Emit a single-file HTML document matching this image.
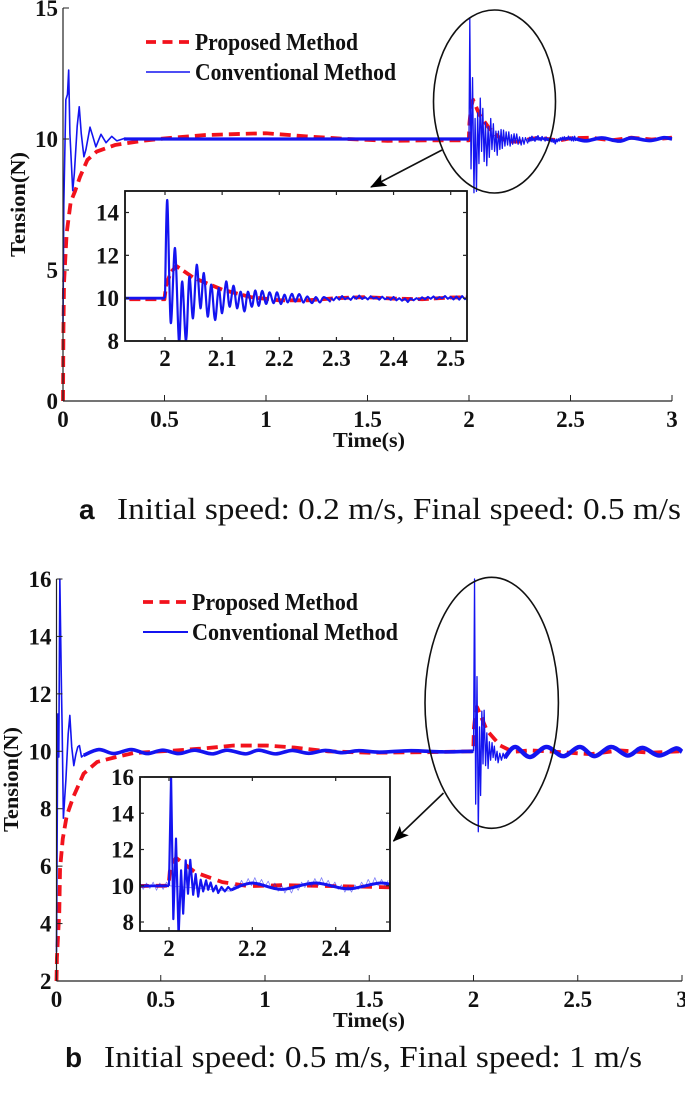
<!DOCTYPE html>
<html lang="en">
<head>
<meta charset="utf-8">
<title>Tension response comparison</title>
<style>
html,body{margin:0;padding:0;background:#fff;}
svg{display:block;}
text{font-family:"Liberation Serif",serif;fill:#111;}
.tick{font-weight:bold;font-size:23px;}
.title{font-weight:bold;font-size:21.5px;}
.legend{font-weight:bold;font-size:24px;}
.caption{font-size:31px;}
.tag{font-family:"Liberation Sans",sans-serif;font-weight:bold;font-size:28px;}
</style>
</head>
<body>
<svg id="figure" xmlns="http://www.w3.org/2000/svg" width="685" height="1105" viewBox="0 0 685 1105">
  <defs>
    <clipPath id="clip-inset-a"><rect x="125" y="191" width="342" height="150"/></clipPath>
    <clipPath id="clip-inset-b"><rect x="140" y="777" width="250" height="154"/></clipPath>
    <marker id="arrow-head" viewBox="0 0 16 13" refX="15" refY="6.5" markerWidth="16" markerHeight="13" markerUnits="userSpaceOnUse" orient="auto">
      <path d="M0 0 L16 6.5 L0 13 L3.5 6.5 Z" fill="#000"/>
    </marker>
  </defs>
  <g id="panel-a"></g>
  <g id="panel-b"></g>

  <g>
    <line x1="146" y1="42" x2="190" y2="42" stroke="#f2121c" stroke-width="3.8" stroke-dasharray="10 6.5"/>
    <text class="legend" x="195" y="50" textLength="163" lengthAdjust="spacingAndGlyphs">Proposed Method</text>
    <line x1="146" y1="72" x2="190" y2="72" stroke="#1414f0" stroke-width="1.6"/>
    <text class="legend" x="195" y="80" textLength="201" lengthAdjust="spacingAndGlyphs">Conventional Method</text>
  </g>
  <g>
    <line x1="143" y1="602" x2="188" y2="602" stroke="#f2121c" stroke-width="3.8" stroke-dasharray="10 6.5"/>
    <text class="legend" x="192" y="610" textLength="166" lengthAdjust="spacingAndGlyphs">Proposed Method</text>
    <line x1="143" y1="632" x2="188" y2="632" stroke="#1414f0" stroke-width="2"/>
    <text class="legend" x="192" y="640" textLength="206" lengthAdjust="spacingAndGlyphs">Conventional Method</text>
  </g>

  <text class="title" transform="translate(25 257) rotate(-90)" textLength="105" lengthAdjust="spacingAndGlyphs">Tension(N)</text>
  <text class="title" x="369" y="447" text-anchor="middle" textLength="72" lengthAdjust="spacingAndGlyphs">Time(s)</text>
  <text class="title" transform="translate(18 832) rotate(-90)" textLength="105" lengthAdjust="spacingAndGlyphs">Tension(N)</text>
  <text class="title" x="369" y="1027" text-anchor="middle" textLength="72" lengthAdjust="spacingAndGlyphs">Time(s)</text>

  <text class="tag" x="79" y="519">a</text>
  <text class="caption" x="117" y="519" textLength="564" lengthAdjust="spacingAndGlyphs">Initial speed: 0.2 m/s, Final speed: 0.5 m/s</text>
  <text class="tag" x="65" y="1067">b</text>
  <text class="caption" x="104" y="1067" textLength="538" lengthAdjust="spacingAndGlyphs">Initial speed: 0.5 m/s, Final speed: 1 m/s</text>

  <g id="callouts">
    <ellipse cx="494.5" cy="101.5" rx="61" ry="91.5" fill="none" stroke="#111" stroke-width="1.6"/>
    <line x1="442" y1="150" x2="371" y2="187" stroke="#111" stroke-width="1.6" marker-end="url(#arrow-head)"/>
    <ellipse cx="491.7" cy="702.8" rx="66.7" ry="125.5" fill="none" stroke="#111" stroke-width="1.6"/>
    <line x1="443.5" y1="793" x2="393.5" y2="841" stroke="#111" stroke-width="1.6" marker-end="url(#arrow-head)"/>
  </g>
</svg>

<script>
/* ---------- Panel a: ticks ---------- */
const aXTicks = [0, 0.5, 1, 1.5, 2, 2.5, 3];
const aXLabels = ["0", "0.5", "1", "1.5", "2", "2.5", "3"];
const aYTicks = [0, 5, 10, 15];
const aYLabels = ["0", "5", "10", "15"];
const aInsetXTicks = [2, 2.1, 2.2, 2.3, 2.4, 2.5];
const aInsetXLabels = ["2", "2.1", "2.2", "2.3", "2.4", "2.5"];
const aInsetYTicks = [8, 10, 12, 14];
const aInsetYLabels = ["8", "10", "12", "14"];

/* ---------- Panel a: proposed method ---------- */
const aPropT = [0, 0.002, 0.005, 0.018, 0.038, 0.059, 0.084, 0.12, 0.166, 0.256, 0.39, 0.51, 0.7, 0.9, 1.0, 1.2, 1.4, 1.6, 1.8, 1.999, 2.002, 2.01, 2.02, 2.05, 2.1, 2.15, 2.2, 2.25, 2.3, 2.35, 2.4, 2.45, 2.5, 2.6, 2.7, 2.8, 2.9, 3.0];
const aPropV = [0, 2.6, 4.5, 6.4, 7.6, 8.0, 8.56, 9.2, 9.52, 9.77, 9.93, 10.03, 10.15, 10.2, 10.22, 10.1, 10.0, 9.93, 9.95, 9.95, 10.6, 11.2, 11.5, 10.95, 10.4, 10.05, 9.9, 9.9, 10.0, 10.05, 9.98, 9.95, 10.03, 10.05, 9.95, 10.05, 9.98, 10.05];

/* ---------- Panel a: conventional method ---------- */
const aStartT = [0, 0.004, 0.014, 0.018, 0.022, 0.028, 0.034, 0.048, 0.056, 0.07, 0.08, 0.09, 0.103, 0.113, 0.133, 0.145, 0.162, 0.187, 0.212, 0.24, 0.265, 0.305, 0.34];
const aStartV = [3, 7.5, 11.5, 11.6, 11.7, 12.63, 10.2, 8.03, 8.7, 10.5, 11.23, 10.2, 9.32, 9.6, 10.45, 10.15, 9.7, 10.18, 9.86, 10.1, 9.93, 10.03, 10.0];
const aFlatT = [0.3, 0.7, 1.2, 1.6, 1.93, 2.0];
const aFlatV = [10.0, 10.0, 10.0, 10.0, 10.0, 10.0];
const aJumpT = [2.0, 2.004, 2.01, 2.0175, 2.0245, 2.03, 2.0368, 2.0426, 2.049, 2.0555, 2.062, 2.068, 2.0747, 2.081, 2.0876, 2.094, 2.1, 2.107, 2.113, 2.12, 2.126, 2.1325, 2.139, 2.145, 2.152, 2.158, 2.164, 2.17, 2.177, 2.183, 2.19, 2.196, 2.2026, 2.209, 2.215, 2.222, 2.228, 2.235, 2.242, 2.249, 2.257, 2.264, 2.271, 2.278, 2.29];
const aJumpV = [10.0, 14.58, 8.86, 12.34, 7.95, 10.78, 8.0, 11.0, 9.06, 11.56, 9.53, 11.17, 9.14, 10.63, 8.98, 10.47, 9.3, 10.78, 9.6, 10.58, 9.53, 10.3, 9.38, 10.3, 9.6, 10.36, 9.64, 10.34, 9.73, 10.27, 9.77, 10.27, 9.73, 10.16, 9.8, 10.2, 9.84, 10.19, 9.8, 10.08, 9.77, 10.05, 9.8, 10.05, 9.83];
const aTailT = [2.29, 2.295, 2.3, 2.305, 2.31, 2.315, 2.32, 2.325, 2.33, 2.335, 2.34, 2.345, 2.35, 2.355, 2.36, 2.365, 2.37, 2.375, 2.38, 2.385, 2.39, 2.395, 2.4, 2.405, 2.41, 2.415, 2.42, 2.425, 2.43, 2.435, 2.44, 2.445, 2.45, 2.455, 2.46, 2.465, 2.47, 2.475, 2.48, 2.485, 2.49, 2.495, 2.5, 2.505, 2.51, 2.515, 2.52, 2.525, 2.53];
const aTailV = [10.02, 9.9, 10.06, 9.93, 10.1, 9.95, 10.03, 9.92, 10.08, 9.97, 10.12, 9.96, 10.05, 9.94, 10.09, 9.98, 10.04, 9.93, 10.07, 9.95, 10.02, 9.92, 10.06, 9.9, 10.0, 9.88, 9.98, 9.82, 9.99, 9.9, 10.0, 9.93, 10.04, 9.95, 10.06, 9.97, 10.08, 9.96, 10.05, 9.99, 10.1, 9.97, 10.06, 9.94, 10.08, 9.93, 10.1, 9.95, 10.05];
const aWaveT = [2.53, 2.58, 2.654, 2.74, 2.8, 2.89, 2.96, 3.0];
const aWaveV = [10.0, 9.93, 10.04, 9.92, 10.04, 9.94, 10.05, 10.0];

/* ---------- Panel b: ticks ---------- */
const bXTicks = [0, 0.5, 1, 1.5, 2, 2.5, 3];
const bXLabels = ["0", "0.5", "1", "1.5", "2", "2.5", "3"];
const bYTicks = [2, 4, 6, 8, 10, 12, 14, 16];
const bYLabels = ["2", "4", "6", "8", "10", "12", "14", "16"];
const bInsetXTicks = [2, 2.2, 2.4];
const bInsetXLabels = ["2", "2.2", "2.4"];
const bInsetYTicks = [8, 10, 12, 14, 16];
const bInsetYLabels = ["8", "10", "12", "14", "16"];

/* ---------- Panel b: proposed method ---------- */
const bPropT = [0, 0.002, 0.0134, 0.017, 0.03, 0.049, 0.08, 0.13, 0.195, 0.275, 0.37, 0.53, 0.69, 0.85, 1.01, 1.14, 1.3, 1.5, 1.8, 1.999, 2.002, 2.008, 2.017, 2.064, 2.128, 2.19, 2.27, 2.4, 2.56, 2.7, 2.85, 3.0];
const bPropV = [2, 2.8, 4.4, 5.9, 6.95, 7.75, 8.4, 9.22, 9.63, 9.78, 9.94, 10.01, 10.09, 10.2, 10.2, 10.13, 10.0, 9.95, 9.97, 10.0, 10.8, 11.2, 11.54, 10.73, 10.2, 9.98, 10.03, 9.98, 9.9, 10.03, 9.95, 10.0];

/* ---------- Panel b: conventional method ---------- */
const bStartT = [0, 0.0064, 0.011, 0.016, 0.024, 0.027, 0.033, 0.045, 0.056, 0.064, 0.073, 0.083, 0.093, 0.102, 0.11, 0.12, 0.13];
const bStartV = [3, 11.3, 9.8, 16.0, 12.06, 10.85, 7.67, 9.0, 10.6, 11.25, 10.15, 9.5, 9.9, 10.15, 10.2, 9.8, 9.86];
const bFlatT = [0.13, 0.203, 0.275, 0.358, 0.434, 0.51, 0.586, 0.663, 0.746, 0.818, 0.906, 0.97, 1.05, 1.13, 1.21, 1.29, 1.37, 1.45, 1.55, 1.7, 1.85, 2.0];
const bFlatV = [9.86, 10.06, 9.92, 10.06, 9.92, 10.04, 9.92, 10.04, 9.91, 10.04, 9.91, 10.04, 9.91, 10.03, 9.93, 10.03, 9.95, 10.02, 9.97, 10.02, 9.98, 10.0];
const bJumpT = [2.0, 2.005, 2.0104, 2.0168, 2.023, 2.029, 2.034, 2.04, 2.0456, 2.051, 2.058, 2.064, 2.07, 2.076, 2.082, 2.089, 2.094, 2.1, 2.106, 2.113, 2.118, 2.126, 2.134, 2.142, 2.15];
const bJumpV = [10.0, 16.0, 8.16, 12.6, 7.2, 10.85, 8.46, 11.4, 9.56, 11.43, 9.5, 10.64, 9.4, 10.33, 9.69, 10.3, 9.78, 10.18, 9.69, 10.0, 9.6, 9.93, 9.69, 9.93, 9.74];
const bWaveT = [2.15, 2.2, 2.27, 2.35, 2.43, 2.51, 2.58, 2.66, 2.74, 2.81, 2.89, 2.97, 3.0];
const bWaveV = [9.78, 10.15, 9.8, 10.15, 9.83, 10.15, 9.83, 10.15, 9.85, 10.12, 9.85, 10.1, 9.98];
const bNoiseT = [1.93, 1.938, 1.946, 1.954, 1.962, 1.97, 1.978, 1.986, 1.994, 2.0, 2.15, 2.158, 2.166, 2.174, 2.182, 2.19, 2.198, 2.206, 2.214, 2.222, 2.23, 2.238, 2.246, 2.254, 2.262, 2.27, 2.278, 2.286, 2.294, 2.302, 2.31, 2.318, 2.326, 2.334, 2.342, 2.35, 2.358, 2.366, 2.374, 2.382, 2.39, 2.398, 2.406, 2.414, 2.422, 2.43, 2.438, 2.446, 2.454, 2.462, 2.47, 2.478, 2.486, 2.494, 2.502, 2.51, 2.518, 2.526];
const bNoiseV = [10.2, 9.8, 10.15, 9.85, 10.2, 9.75, 10.15, 9.8, 10.2, 10.0, 9.7, 10.05, 9.85, 10.3, 9.95, 10.4, 10.0, 10.45, 10.0, 10.35, 9.95, 10.25, 9.85, 10.15, 9.7, 10.05, 9.6, 9.95, 9.6, 10.05, 9.75, 10.2, 9.9, 10.3, 9.95, 10.4, 10.0, 10.45, 10.0, 10.3, 9.9, 10.2, 9.8, 10.05, 9.65, 10.0, 9.65, 10.05, 9.8, 10.2, 9.9, 10.35, 10.0, 10.45, 10.0, 10.35, 10.0, 10.3];

const SVG_NS = "http://www.w3.org/2000/svg";
const BLUE = "#1414f0";
const RED = "#f2121c";

function scale(d0, d1, p0, p1) {
  return function (v) { return p0 + (v - d0) * (p1 - p0) / (d1 - d0); };
}

function curvePath(T, V, sx, sy, smooth) {
  const pts = T.map(function (t, i) { return [sx(t), sy(V[i])]; });
  let d = "M" + pts[0][0].toFixed(2) + " " + pts[0][1].toFixed(2);
  for (let i = 1; i < pts.length; i++) {
    if (!smooth) {
      d += "L" + pts[i][0].toFixed(2) + " " + pts[i][1].toFixed(2);
    } else {
      const p0 = pts[Math.max(0, i - 2)], p1 = pts[i - 1], p2 = pts[i], p3 = pts[Math.min(pts.length - 1, i + 1)];
      const c1x = p1[0] + (p2[0] - p0[0]) / 6, c1y = p1[1] + (p2[1] - p0[1]) / 6;
      const c2x = p2[0] - (p3[0] - p1[0]) / 6, c2y = p2[1] - (p3[1] - p1[1]) / 6;
      d += "C" + c1x.toFixed(2) + " " + c1y.toFixed(2) + " " + c2x.toFixed(2) + " " + c2y.toFixed(2) + " " + p2[0].toFixed(2) + " " + p2[1].toFixed(2);
    }
  }
  return d;
}

function drawSeries(parent, T, V, sx, sy, color, width, dash, smooth, seriesName, opacity) {
  const path = document.createElementNS(SVG_NS, "path");
  path.setAttribute("d", curvePath(T, V, sx, sy, smooth));
  path.setAttribute("fill", "none");
  path.setAttribute("stroke", color);
  path.setAttribute("stroke-width", width);
  path.setAttribute("stroke-linejoin", "round");
  if (dash) { path.setAttribute("stroke-dasharray", dash); }
  if (opacity) { path.setAttribute("stroke-opacity", opacity); }
  
  
  parent.appendChild(path);
}

function drawRule(parent, x1, y1, x2, y2, width, ruleName) {
  const rule = document.createElementNS(SVG_NS, "line");
  rule.setAttribute("x1", x1);
  rule.setAttribute("y1", y1);
  rule.setAttribute("x2", x2);
  rule.setAttribute("y2", y2);
  rule.setAttribute("stroke", "#222");
  rule.setAttribute("stroke-width", width);
  
  
  parent.appendChild(rule);
}

function drawLabel(parent, x, y, anchor, content, labelName) {
  const label = document.createElementNS(SVG_NS, "text");
  label.setAttribute("class", "tick");
  label.setAttribute("x", x);
  label.setAttribute("y", y);
  label.setAttribute("text-anchor", anchor);
  label.textContent = content;
  
  
  parent.appendChild(label);
}

function drawMainAxes(g, sx, sy, xT, xL, yT, yL, cfg) {
  drawRule(g, sx(xT[0]), cfg.top, sx(xT[0]), cfg.bottom, 1.2, "y-axis-line");
  drawRule(g, sx(xT[0]), cfg.bottom, sx(xT[xT.length - 1]), cfg.bottom, 1.2, "x-axis-line");
  xT.forEach(function (t, i) {
    drawRule(g, sx(t), cfg.bottom, sx(t), cfg.bottom - 6, 1, "x-tick");
    drawLabel(g, sx(t), cfg.xLabelY, "middle", xL[i], "x-tick-label");
  });
  yT.forEach(function (v, i) {
    drawRule(g, sx(xT[0]), sy(v), sx(xT[0]) + 6, sy(v), 1, "y-tick");
    drawLabel(g, sx(xT[0]) - 5, sy(v) + 8, "end", yL[i], "y-tick-label");
  });
}

function drawInsetFrame(g, box, sx, sy, xT, xL, yT, yL) {
  const bg = document.createElementNS(SVG_NS, "rect");
  bg.setAttribute("x", box.x);
  bg.setAttribute("y", box.y);
  bg.setAttribute("width", box.w);
  bg.setAttribute("height", box.h);
  bg.setAttribute("fill", "#fff");
  
  
  g.appendChild(bg);
  return function finish() {
    const frame = document.createElementNS(SVG_NS, "rect");
    frame.setAttribute("x", box.x);
    frame.setAttribute("y", box.y);
    frame.setAttribute("width", box.w);
    frame.setAttribute("height", box.h);
    frame.setAttribute("fill", "none");
    frame.setAttribute("stroke", "#111");
    frame.setAttribute("stroke-width", 1.8);
    
    
    g.appendChild(frame);
    xT.forEach(function (t, i) {
      drawRule(g, sx(t), box.y, sx(t), box.y + 4, 1.2, "inset-x-tick-top");
      drawRule(g, sx(t), box.y + box.h, sx(t), box.y + box.h - 4, 1.2, "inset-x-tick-bottom");
      drawLabel(g, sx(t), box.y + box.h + 25, "middle", xL[i], "inset-x-tick-label");
    });
    yT.forEach(function (v, i) {
      drawRule(g, box.x, sy(v), box.x + 4, sy(v), 1.2, "inset-y-tick-left");
      drawRule(g, box.x + box.w, sy(v), box.x + box.w - 4, sy(v), 1.2, "inset-y-tick-right");
      drawLabel(g, box.x - 6, sy(v) + 8, "end", yL[i], "inset-y-tick-label");
    });
  };
}

function clipGroup(parent, clipId) {
  const c = document.createElementNS(SVG_NS, "g");
  c.setAttribute("clip-path", "url(#" + clipId + ")");
  
  
  parent.appendChild(c);
  return c;
}

/* ---------- Render panel a ---------- */
(function () {
  const g = document.getElementById("panel-a");
  const sx = scale(0, 3, 63, 672);
  const sy = scale(0, 15, 401, 8);
  drawSeries(g, aPropT, aPropV, sx, sy, RED, 3.8, "11 6", false, "proposed-method-line-a");
  drawSeries(g, aStartT, aStartV, sx, sy, BLUE, 1.6, null, false, "conventional-startup-line-a");
  drawSeries(g, aFlatT, aFlatV, sx, sy, BLUE, 3.2, null, false, "conventional-steady-line-a");
  drawSeries(g, aJumpT, aJumpV, sx, sy, BLUE, 1.3, null, false, "conventional-disturbance-line-a");
  drawSeries(g, aTailT, aTailV, sx, sy, BLUE, 1.6, null, false, "conventional-tail-line-a");
  drawSeries(g, aWaveT, aWaveV, sx, sy, BLUE, 3.6, null, true, "conventional-wave-line-a");
  drawMainAxes(g, sx, sy, aXTicks, aXLabels, aYTicks, aYLabels, { top: 8, bottom: 401, xLabelY: 427 });

  const box = { x: 125, y: 191, w: 342, h: 150 };
  const ix = scale(2, 2.5, 165, 450.7);
  const iy = scale(8, 14, 341, 212.5);
  const finish = drawInsetFrame(g, box, ix, iy, aInsetXTicks, aInsetXLabels, aInsetYTicks, aInsetYLabels);
  const c = clipGroup(g, "clip-inset-a");
  drawSeries(c, aPropT, aPropV, ix, iy, RED, 3.8, "11 5", false, "inset-proposed-line-a");
  drawSeries(c, aFlatT, aFlatV, ix, iy, BLUE, 2.8, null, false, "inset-conventional-steady-line-a");
  drawSeries(c, aJumpT, aJumpV, ix, iy, BLUE, 2.2, null, true, "inset-conventional-disturbance-line-a");
  drawSeries(c, aTailT, aTailV, ix, iy, BLUE, 2, null, false, "inset-conventional-tail-line-a");
  finish();
})();

/* ---------- Render panel b ---------- */
(function () {
  const g = document.getElementById("panel-b");
  const sx = scale(0, 3, 56.5, 682);
  const sy = scale(2, 16, 981, 579);
  drawSeries(g, bPropT, bPropV, sx, sy, RED, 3.8, "11 6", false, "proposed-method-line-b");
  drawSeries(g, bStartT, bStartV, sx, sy, BLUE, 1.6, null, false, "conventional-startup-line-b");
  drawSeries(g, bFlatT, bFlatV, sx, sy, BLUE, 3.6, null, true, "conventional-steady-line-b");
  drawSeries(g, bJumpT, bJumpV, sx, sy, BLUE, 1.3, null, false, "conventional-disturbance-line-b");
  drawSeries(g, bWaveT, bWaveV, sx, sy, BLUE, 4.4, null, true, "conventional-wave-line-b");
  drawMainAxes(g, sx, sy, bXTicks, bXLabels, bYTicks, bYLabels, { top: 579, bottom: 981, xLabelY: 1007 });

  const box = { x: 140, y: 777, w: 250, h: 154 };
  const ix = scale(2, 2.4, 169, 335.7);
  const iy = scale(8, 16, 922, 777);
  const finish = drawInsetFrame(g, box, ix, iy, bInsetXTicks, bInsetXLabels, bInsetYTicks, bInsetYLabels);
  const c = clipGroup(g, "clip-inset-b");
  drawSeries(c, bPropT, bPropV, ix, iy, RED, 3.8, "11 7", false, "inset-proposed-line-b");
  drawSeries(c, bFlatT, bFlatV, ix, iy, BLUE, 2.8, null, true, "inset-conventional-steady-line-b");
  drawSeries(c, bJumpT, bJumpV, ix, iy, BLUE, 2.2, null, false, "inset-conventional-disturbance-line-b");
  drawSeries(c, bWaveT, bWaveV, ix, iy, BLUE, 3, null, true, "inset-conventional-wave-line-b");
  drawSeries(c, bNoiseT, bNoiseV, ix, iy, BLUE, 0.8, null, false, "inset-conventional-noise-line-b", 0.55);
  finish();
})();
</script>
</body>
</html>
